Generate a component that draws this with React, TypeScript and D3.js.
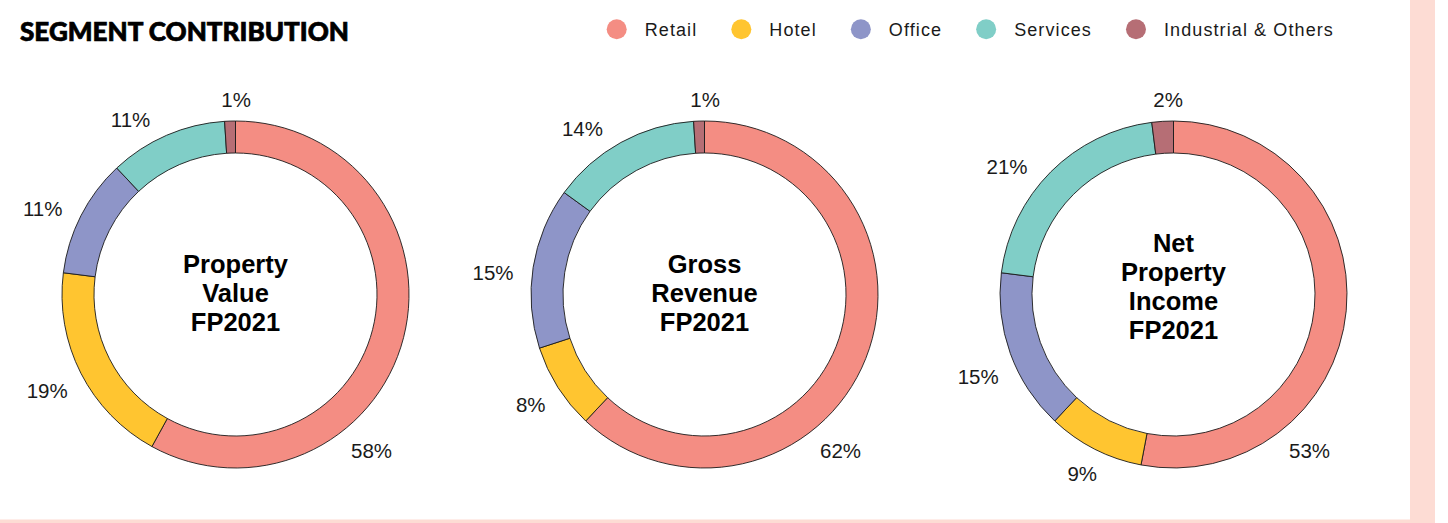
import * as d3 from 'd3';
import * as React from 'react';

// segment names and colours, in the order the rings are drawn (clockwise from 12 o'clock)
const categories = ['Retail', 'Hotel', 'Office', 'Services', 'Industrial & Others'];
const colours = ['#f48d83', '#ffc530', '#8e95c8', '#80cec7', '#b66e75'];

// percentages
const propertyValue = [58, 19, 11, 11, 1];
const grossRevenue = [62, 8, 15, 14, 1];
const netPropertyIncome = [53, 9, 15, 21, 2];

const ringTitles = [
    ['Property', 'Value', 'FP2021'],
    ['Gross', 'Revenue', 'FP2021'],
    ['Net', 'Property', 'Income', 'FP2021'],
];
const ringValues = [propertyValue, grossRevenue, netPropertyIncome];
const heading = 'SEGMENT CONTRIBUTION';

const width = 1448;
const height = 523;
const outerRadius = 173.5;
const innerRadius = 141.5;
const centreY = 294.5;
const labelRadius = 192;
const labelFont = 20.5;
const titleFont = 25.5;
const titleLineHeight = 29;
// the biggest slice always gets its label parked at the lower right
const leadLabelAngle = (139 / 180) * Math.PI;
// small per-segment turn (degrees) applied to the label position, as in the original layout
const labelTurn = [0, 0, -3, -7.5, 2];
const blush = '#fddcd4';
const ink = '#1a1a1a';

/**
 * Three donut rings with a legend on top
 */
export default function App() {
    const svgRef = React.useRef<SVGSVGElement | null>(null);

    React.useEffect(() => {
        if (!svgRef.current) return;
        const svg = d3.select(svgRef.current);
        svg.selectAll('*').remove();

        svg.append('rect').attr('width', width).attr('height', height).attr('fill', '#ffffff');
        svg.append('rect').attr('x', 1410).attr('y', 0).attr('width', 25).attr('height', height).attr('fill', blush);
        svg.append('rect').attr('x', 0).attr('y', 519.5).attr('width', 1410).attr('height', 4).attr('fill', blush);

        svg.append('text')
            .attr('x', 20)
            .attr('y', 40.5)
            .attr('font-family', 'Lato, "DejaVu Sans", sans-serif')
            .attr('font-weight', 900)
            .attr('font-size', 26)
            .attr('textLength', 329)
            .attr('lengthAdjust', 'spacingAndGlyphs')
            .attr('fill', '#000')
            .attr('stroke', '#000')
            .attr('stroke-width', 0.7)
            .text(heading);

        // legend, laid out left to right from the measured text widths
        const legend = svg.append('g');
        let cursor = 616.7;
        categories.forEach((name, i) => {
            legend.append('circle')
                .attr('cx', cursor)
                .attr('cy', 29.3)
                .attr('r', 10)
                .attr('fill', colours[i]);
            const label = legend.append('text')
                .attr('x', cursor + 28)
                .attr('y', 35.8)
                .attr('font-family', '"Liberation Sans", Arial, sans-serif')
                .attr('font-size', 18)
                .attr('letter-spacing', 1.1)
                .attr('fill', ink)
                .text(name);
            const textWidth = (label.node() as SVGTextElement).getComputedTextLength();
            cursor = cursor + 28 + textWidth + 34 + 10;
        });

        const xScale = d3.scalePoint<number>()
            .domain(d3.range(ringValues.length))
            .range([235.5, 1173.5]);

        const pie = d3.pie<number>().sort(null).value(d => d);
        const arc = d3.arc<d3.PieArcDatum<number>>()
            .innerRadius(innerRadius)
            .outerRadius(outerRadius);

        ringValues.forEach((values, ringIndex) => {
            const cx = xScale(ringIndex) as number;
            const g = svg.append('g').attr('transform', `translate(${cx},${centreY})`);
            const slices = pie(values);

            g.selectAll('path.slice')
                .data(slices)
                .join('path')
                .attr('class', 'slice')
                .attr('d', arc)
                .attr('fill', (_d, i) => colours[i])
                .attr('stroke', '#1b1b1b')
                .attr('stroke-width', 0.9);

            slices.forEach((slice, i) => {
                const mid = (slice.startAngle + slice.endAngle) / 2 + (labelTurn[i] / 180) * Math.PI;
                const angle = i === 0 ? leadLabelAngle : mid;
                const label = g.append('text')
                    .attr('font-family', '"Liberation Sans", Arial, sans-serif')
                    .attr('font-size', labelFont)
                    .attr('fill', ink)
                    .attr('text-anchor', 'middle')
                    .attr('dy', '0.36em')
                    .text(`${slice.data}%`);
                const halfWidth = (label.node() as SVGTextElement).getComputedTextLength() / 2;
                const r = labelRadius
                    + halfWidth * Math.abs(Math.sin(angle))
                    + 2.5 * Math.abs(Math.cos(angle));
                label
                    .attr('x', Math.sin(angle) * r)
                    .attr('y', -Math.cos(angle) * r);
            });

            const lines = ringTitles[ringIndex];
            const blockCentre = -1.5 - (lines.length - 3) * 6.5;
            const first = blockCentre - ((lines.length - 1) / 2) * titleLineHeight;
            const title = g.append('text')
                .attr('font-family', '"Liberation Sans", Arial, sans-serif')
                .attr('font-weight', 700)
                .attr('font-size', titleFont)
                .attr('fill', '#000')
                .attr('text-anchor', 'middle');
            lines.forEach((line, li) => {
                title.append('tspan')
                    .attr('x', 0)
                    .attr('y', first + li * titleLineHeight)
                    .attr('dy', '0.36em')
                    .text(line);
            });
        });
    }, []);

    return (
        <svg
            ref={svgRef}
            width={width}
            height={height}
            style={{ position: 'absolute', left: 0, top: 0, display: 'block' }}
        />
    );
}
